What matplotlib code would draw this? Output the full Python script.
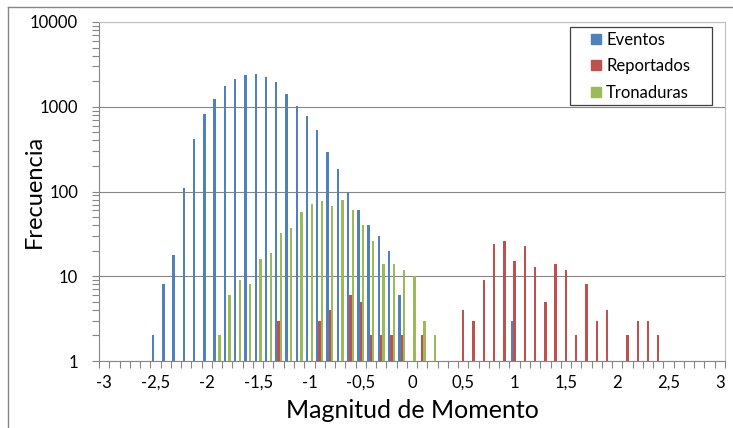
import matplotlib
matplotlib.use("Agg")
import matplotlib.pyplot as plt
import numpy as np
from matplotlib.lines import Line2D
from matplotlib.patches import Rectangle
from matplotlib.ticker import FixedLocator, NullFormatter

plt.rcParams['font.family'] = ['Lato', 'DejaVu Sans']

# Magnitud de Momento categories (-3.0 .. 3.0 by 0.1)
magnitudes = [-3.0, -2.9, -2.8, -2.7, -2.6, -2.5, -2.4, -2.3, -2.2, -2.1,
              -2.0, -1.9, -1.8, -1.7, -1.6, -1.5, -1.4, -1.3, -1.2, -1.1,
              -1.0, -0.9, -0.8, -0.7, -0.6, -0.5, -0.4, -0.3, -0.2, -0.1,
              0.0, 0.1, 0.2, 0.3, 0.4, 0.5, 0.6, 0.7, 0.8, 0.9,
              1.0, 1.1, 1.2, 1.3, 1.4, 1.5, 1.6, 1.7, 1.8, 1.9,
              2.0, 2.1, 2.2, 2.3, 2.4, 2.5, 2.6, 2.7, 2.8, 2.9,
              3.0]

eventos = [0, 0, 0, 0, 0, 2, 8, 18, 110, 420,
           820, 1250, 1780, 2100, 2350, 2450, 2250, 1950, 1430, 1030,
           780, 530, 295, 185, 100, 60, 40, 30, 20, 6,
           0, 0, 0, 0, 0, 0, 0, 0, 0, 0,
           3, 0, 0, 0, 0, 0, 0, 0, 0, 0,
           0, 0, 0, 0, 0, 0, 0, 0, 0, 0,
           0]

reportados = [0, 0, 0, 0, 0, 0, 0, 0, 0, 0,
              0, 0, 0, 0, 0, 0, 0, 3, 0, 0,
              0, 3, 4, 0, 6, 5, 2, 2, 2, 2,
              0, 2, 0, 0, 0, 4, 3, 9, 24, 26,
              15, 23, 13, 5, 14, 12, 2, 8, 3, 4,
              0, 2, 3, 3, 2, 0, 0, 0, 0, 0,
              0]

tronaduras = [0, 0, 0, 0, 0, 0, 0, 0, 0, 0,
              0, 2, 6, 9, 8, 16, 19, 32, 37, 57,
              72, 77, 68, 80, 60, 40, 26, 14, 14, 12,
              10, 3, 2, 0, 0, 0, 0, 0, 0, 0,
              0, 0, 0, 0, 0, 0, 0, 0, 0, 0,
              0, 0, 0, 0, 0, 0, 0, 0, 0, 0,
              0]

x_labels = ['-3', '-2,5', '-2', '-1,5', '-1', '-0,5', '0',
            '0,5', '1', '1,5', '2', '2,5', '3']
y_labels = ['1', '10', '100', '1000', '10000']

series = [('Eventos', eventos, '#4F81BD', -0.23),
          ('Reportados', reportados, '#C0504D', 0.0),
          ('Tronaduras', tronaduras, '#9BBB59', 0.23)]

W, H = 733, 428
fig = plt.figure(figsize=(W / 100, H / 100), dpi=100)
ax = fig.add_axes([99 / W, 1 - 361 / H, 626 / W, 339 / H])

x = np.arange(len(magnitudes))
for name, vals, col, off in series:
    v = np.array(vals, dtype=float)
    v[v <= 0] = np.nan
    ax.bar(x + off, v, width=0.23, color=col, label=name, zorder=3)

ax.set_yscale('log')
ax.set_ylim(1, 10000)
ax.set_xlim(-0.5, len(magnitudes) - 0.5)

grey = '#868686'
ax.yaxis.set_major_locator(FixedLocator([1, 10, 100, 1000, 10000]))
ax.set_yticklabels(y_labels)
ax.yaxis.set_minor_locator(FixedLocator(
    [m * 10 ** d for d in range(4) for m in range(2, 10)]))
ax.yaxis.set_minor_formatter(NullFormatter())

label_pos = [i for i, m in enumerate(magnitudes) if round(m * 10) % 5 == 0]
ax.set_xticks(label_pos)
ax.set_xticklabels(x_labels)
ax.set_xticks(np.arange(len(magnitudes) + 1) - 0.5, minor=True)

ax.tick_params(axis='y', which='both', direction='out', length=5, width=0.8,
               color=grey, labelsize=12, pad=10)
ax.tick_params(axis='x', which='major', length=0, labelsize=12, pad=10)
ax.tick_params(axis='x', which='minor', direction='out', length=5, width=0.8,
               color=grey)

ax.grid(axis='y', which='major', color=grey, linewidth=0.8, zorder=0)
for s in ax.spines.values():
    s.set_color(grey)
    s.set_linewidth(0.8)
ax.spines['top'].set_color('#BFBFBF')
ax.spines['right'].set_color('#BFBFBF')

ax.set_xlabel('Magnitud de Momento', fontsize=18, va='center')
ax.xaxis.set_label_coords(0.5, (361 - 410) / 339)
ax.set_ylabel('Frecuencia', fontsize=17, va='center')
ax.yaxis.set_label_coords((34 - 99) / 626, 0.5)

# legend: box drawn separately so the padding matches
fig.add_artist(Rectangle((570 / W, 1 - 105 / H), 142 / W, 78 / H,
                         transform=fig.transFigure, facecolor='white',
                         edgecolor='#404040', linewidth=0.9, zorder=4))
handles = [Line2D([], [], marker='s', linestyle='', color=c, markersize=7.5)
           for _, _, c, _ in series]
leg = fig.legend(handles, [n for n, _, _, _ in series], loc='upper left',
                 bbox_to_anchor=(591 / W, 1 - 32 / H), fontsize=12,
                 frameon=False, handlelength=0.6, handletextpad=0.3,
                 labelspacing=0.62, borderpad=0, borderaxespad=0)
leg.set_zorder(5)

# outer chart border
fig.add_artist(Line2D([8 / W, 1], [1 - 7 / H, 1 - 7 / H],
                      color=grey, linewidth=1.0))
fig.add_artist(Line2D([8 / W, 8 / W], [0, 1 - 7 / H],
                      color=grey, linewidth=1.0))

fig.savefig('out.png', dpi=100)
